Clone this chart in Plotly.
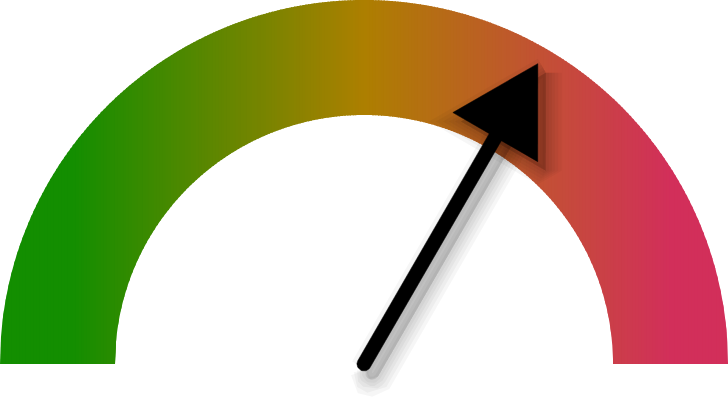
import numpy as np
import plotly.graph_objects as go

# gauge data
gauge_min = 0
gauge_max = 100
gauge_value = 66.7

# horizontal colour gradient of the band (position 0..1 across the width)
stop_pos = [0.10, 0.50, 0.92]
stop_colors = ["#138e00", "#ad7f00", "#d22f5a"]

# geometry (1 unit = 1 px)
R_OUT = 364
R_IN = 249
NEEDLE_W = 14
HEAD_SIDE = 98
HEAD_TIP = 347


def hex_rgb(h):
    h = h.lstrip("#")
    return [int(h[i:i + 2], 16) for i in (0, 2, 4)]


def grad_color(t):
    cols = [hex_rgb(c) for c in stop_colors]
    rgb = [np.interp(t, stop_pos, [c[k] for c in cols]) for k in range(3)]
    return "rgb(%d,%d,%d)" % tuple(int(round(v)) for v in rgb)


def inner_y(x):
    return np.sqrt(np.clip(R_IN ** 2 - x ** 2, 0, None))


def closed(p):
    return np.append(p[:, 0], p[0, 0]), np.append(p[:, 1], p[0, 1])


fig = go.Figure()

# band: vertical strips clipped to the half annulus, each overlapping the next a little
edges = np.unique(np.concatenate([np.linspace(-R_OUT, R_OUT, 261), [-R_IN, R_IN]]))
for xa, xb in zip(edges[:-1], edges[1:]):
    xe = min(xb + 1.2, R_OUT)
    xs = np.linspace(xa, xe, 5)
    top = np.sqrt(np.clip(R_OUT ** 2 - xs ** 2, 0, None))
    bot = inner_y(xs[::-1])
    px = np.concatenate([xs, xs[::-1]])
    py = np.concatenate([top, bot])
    c = grad_color(((xa + xb) / 2 + R_OUT) / (2 * R_OUT))
    fig.add_trace(go.Scatter(x=px, y=py, fill="toself", fillcolor=c, mode="none",
                             hoverinfo="skip", showlegend=False))

# needle shapes
ang = np.pi * (1 - (gauge_value - gauge_min) / (gauge_max - gauge_min))
u = np.array([np.cos(ang), np.sin(ang)])
n = np.array([-u[1], u[0]])
base_r = HEAD_TIP - HEAD_SIDE * np.sqrt(3) / 2

cap = [NEEDLE_W / 2 * (np.cos(a) * n - np.sin(a) * u) for a in np.linspace(0, np.pi, 24)]
shaft_end = u * (base_r + 6)
shaft = np.array(cap + [shaft_end - n * NEEDLE_W / 2, shaft_end + n * NEEDLE_W / 2])
head = np.array([u * HEAD_TIP,
                 u * base_r + n * HEAD_SIDE / 2,
                 u * base_r - n * HEAD_SIDE / 2])

# soft drop shadow
shadow_off = np.array([8, -9])
for w in [32, 25, 18, 12, 6]:
    for poly in (shaft, head):
        sx, sy = closed(poly + shadow_off)
        fig.add_trace(go.Scatter(x=sx, y=sy, fill="toself", fillcolor="rgba(0,0,0,0.03)",
                                 mode="lines", line=dict(color="rgba(0,0,0,0.035)", width=w),
                                 hoverinfo="skip", showlegend=False))

for poly in (shaft, head):
    sx, sy = closed(poly)
    fig.add_trace(go.Scatter(x=sx, y=sy, fill="toself", fillcolor="black", mode="lines",
                             line=dict(color="black", width=0.5),
                             hoverinfo="skip", showlegend=False))

fig.update_layout(
    width=728, height=403,
    margin=dict(l=0, r=0, t=0, b=0),
    paper_bgcolor="white", plot_bgcolor="white",
    xaxis=dict(range=[-R_OUT, R_OUT], visible=False, fixedrange=True),
    yaxis=dict(range=[-39, R_OUT], visible=False, fixedrange=True),
    showlegend=False,
)

fig.write_html("out.html", config={"displayModeBar": False},
               post_script="document.body.style.margin='0';")
